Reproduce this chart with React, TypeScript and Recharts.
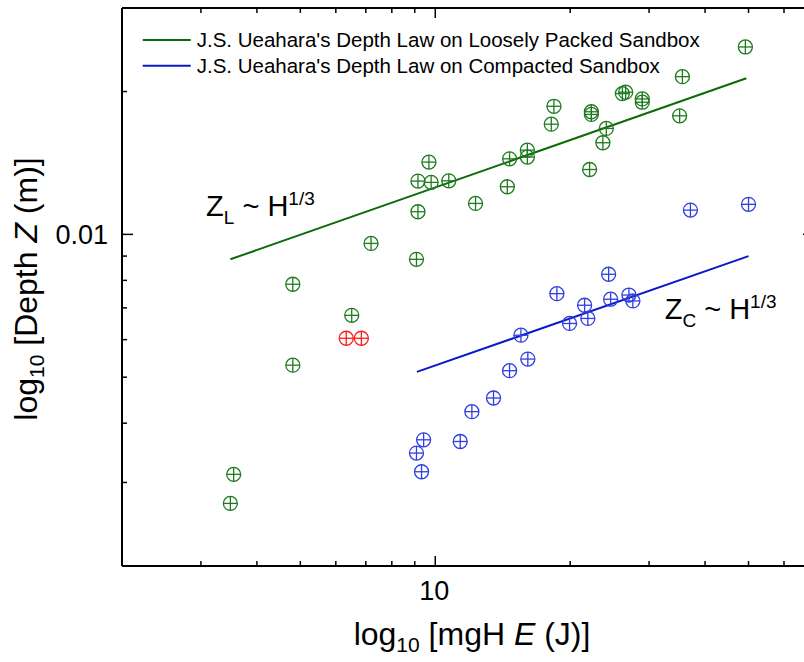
import React from 'react';
import { ScatterChart, Scatter, XAxis, YAxis, ReferenceDot, Legend } from 'recharts';

const FONT = '"Liberation Sans", Arial, Helvetica, sans-serif';

// Loosely packed sandbox (green)
const looseE = [49.2, 35.6, 26.15, 26.6, 28.97, 28.97, 18.4, 22.3, 22.3, 18.15, 24.08, 35.1, 23.66, 16.05, 16.05, 14.65, 9.68, 9.15, 9.79, 10.72, 14.48, 22.1, 12.3, 9.15, 7.19, 9.08, 4.81, 6.51, 4.81, 3.55, 3.49];
const looseZ = [0.02483, 0.0215, 0.0198, 0.01994, 0.0193, 0.01899, 0.01862, 0.01813, 0.0179, 0.01707, 0.01672, 0.01778, 0.0156, 0.01505, 0.01455, 0.01443, 0.0142, 0.01295, 0.01287, 0.01297, 0.0126, 0.0137, 0.01162, 0.01116, 0.00957, 0.00886, 0.00785, 0.00675, 0.0053, 0.00312, 0.00271];

// Highlighted points (red)
const outlierE = [6.33, 6.84];
const outlierZ = [0.00604, 0.00604];

// Compacted sandbox (blue)
const compactE = [37.1, 50.0, 24.37, 18.68, 21.54, 24.62, 27.05, 27.6, 19.94, 21.9, 15.53, 16.09, 14.65, 13.49, 12.07, 9.42, 11.37, 9.08, 9.32];
const compactZ = [0.01125, 0.01157, 0.00824, 0.0075, 0.00709, 0.0073, 0.00745, 0.00724, 0.00649, 0.00665, 0.00613, 0.00546, 0.00516, 0.00452, 0.00423, 0.00369, 0.00366, 0.00346, 0.00316];

// Fit lines Z ~ H^(1/3)
const looseFitE = [3.49, 49.45];
const looseFitZ = [0.00886, 0.02133];
const compactFitE = [9.1, 50.0];
const compactFitZ = [0.00513, 0.009];

const xTicks = [2, 3, 4, 5, 6, 7, 8, 9, 10, 20, 30, 40, 50, 60, 70];
const xLabeled = [10];
const yTicks = [0.002, 0.003, 0.004, 0.005, 0.006, 0.007, 0.008, 0.009, 0.01, 0.02, 0.03];
const yLabeled = [0.01];

const legendLabels = [
  "J.S. Ueahara's Depth Law on Loosely Packed Sandbox",
  "J.S. Ueahara's Depth Law on Compacted Sandbox",
];

const GREEN_LINE = '#0b6b0b';
const GREEN_MARK = '#1f7a1f';
const BLUE_LINE = '#0a18c8';
const BLUE_MARK = '#2f3fe0';
const RED_MARK = '#ff1a1a';

const zip = (xs: number[], ys: number[]) => xs.map((x, i) => ({ x, y: ys[i] }));

const marker = (color: string) => (props: any) => {
  const { cx, cy } = props;
  const r = 7;
  return (
    <g stroke={color} strokeWidth={1.3} fill="none">
      <circle cx={cx} cy={cy} r={r} />
      <line x1={cx - r} x2={cx + r} y1={cy} y2={cy} />
      <line x1={cx} x2={cx} y1={cy - r} y2={cy + r} />
    </g>
  );
};

const noShape = () => <g />;

const BottomTick = (props: any) => {
  const { x, y, payload } = props;
  const v = payload.value;
  const major = xLabeled.includes(v);
  return (
    <g>
      <line x1={x} x2={x} y1={y} y2={y - (major ? 10 : 5)} stroke="#000" strokeWidth={1.5} />
      {major && (
        <text x={x - 1} y={y + 34} textAnchor="middle" fontSize={27} fontFamily={FONT} fill="#000">
          {v}
        </text>
      )}
    </g>
  );
};

const TopTick = (props: any) => {
  const { x, y, payload } = props;
  const major = xLabeled.includes(payload.value);
  return <line x1={x} x2={x} y1={y} y2={y + (major ? 10 : 5)} stroke="#000" strokeWidth={1.5} />;
};

const LeftTick = (props: any) => {
  const { x, y, payload } = props;
  const v = payload.value;
  const major = yLabeled.includes(v);
  return (
    <g>
      <line x1={x} x2={x + (major ? 11 : 5)} y1={y} y2={y} stroke="#000" strokeWidth={1.5} />
      {major && (
        <text x={x - 14} y={y + 9.5} textAnchor="end" fontSize={27} fontFamily={FONT} fill="#000">
          {v}
        </text>
      )}
    </g>
  );
};

const RightTick = (props: any) => {
  const { x, y, payload } = props;
  const major = yLabeled.includes(payload.value);
  return <line x1={x} x2={x - (major ? 11 : 5)} y1={y} y2={y} stroke="#000" strokeWidth={1.5} />;
};

const LegendBox = () => (
  <svg width={640} height={60} style={{ display: 'block' }}>
    {legendLabels.map((label, i) => (
      <g key={label}>
        <line x1={12.7} x2={60.7} y1={15 + i * 25.7} y2={15 + i * 25.7} stroke={i === 0 ? GREEN_LINE : BLUE_LINE} strokeWidth={2} />
        <text x={66.7} y={22.3 + i * 25.7} fontSize={20.5} fontFamily={FONT} fill="#000">
          {label}
        </text>
      </g>
    ))}
  </svg>
);

const LawLabel = (sub: string) => (props: any) => {
  const { cx, cy } = props;
  return (
    <text x={cx} y={cy} fontSize={29} fontFamily={FONT} fill="#000">
      <tspan>Z</tspan>
      <tspan fontSize={19} dy={8}>{sub}</tspan>
      <tspan dy={-8}> ~ H</tspan>
      <tspan fontSize={19} dy={-11}>1/3</tspan>
    </text>
  );
};

const XTitle = (props: any) => {
  const vb = props.viewBox || { x: 122, width: 692, y: 566 };
  const cx = vb.x + vb.width / 2 + 4;
  return (
    <text x={cx} y={566 + 79} textAnchor="middle" fontSize={32} fontFamily={FONT} fill="#000">
      <tspan>log</tspan>
      <tspan fontSize={21} dy={7}>10</tspan>
      <tspan dy={-7}> [mgH </tspan>
      <tspan fontStyle="italic">E</tspan>
      <tspan> (J)]</tspan>
    </text>
  );
};

const YTitle = () => {
  const cy = 289;
  const x = 37;
  return (
    <text x={x} y={cy} transform={`rotate(-90, ${x}, ${cy})`} textAnchor="middle" fontSize={32} fontFamily={FONT} fill="#000">
      <tspan>log</tspan>
      <tspan fontSize={21} dy={7}>10</tspan>
      <tspan dy={-7}> [Depth </tspan>
      <tspan fontStyle="italic">Z</tspan>
      <tspan> (m)]</tspan>
    </text>
  );
};

export default function App() {
  const loose = zip(looseE, looseZ);
  const outliers = zip(outlierE, outlierZ);
  const compact = zip(compactE, compactZ);
  const looseFit = zip(looseFitE, looseFitZ);
  const compactFit = zip(compactFitE, compactFitZ);
  const axisLine = { stroke: '#000', strokeWidth: 2 };
  return (
    <div style={{ position: 'absolute', left: 0, top: 0, width: 804, height: 662, overflow: 'hidden', background: '#fff' }}>
      <ScatterChart width={830} height={662} margin={{ top: 7, left: 121, right: 15, bottom: 95 }}>
        <XAxis xAxisId="b" type="number" dataKey="x" scale="log" domain={[2, 70]} allowDataOverflow ticks={xTicks} interval={0}
          orientation="bottom" height={1} tickSize={0} tickMargin={0} tickLine={false} axisLine={axisLine} tick={<BottomTick />}
          label={{ content: <XTitle /> }} />
        <XAxis xAxisId="t" type="number" dataKey="x" scale="log" domain={[2, 70]} allowDataOverflow ticks={xTicks} interval={0}
          orientation="top" height={1} tickSize={0} tickMargin={0} tickLine={false} axisLine={axisLine} tick={<TopTick />} />
        <YAxis yAxisId="l" type="number" dataKey="y" scale="log" domain={[0.002, 0.03]} allowDataOverflow ticks={yTicks} interval={0}
          orientation="left" width={1} tickSize={0} tickMargin={0} tickLine={false} axisLine={axisLine} tick={<LeftTick />}
          label={{ content: <YTitle /> }} />
        <YAxis yAxisId="r" type="number" dataKey="y" scale="log" domain={[0.002, 0.03]} allowDataOverflow ticks={yTicks} interval={0}
          orientation="right" width={1} tickSize={0} tickMargin={0} tickLine={false} axisLine={axisLine} tick={<RightTick />} />

        <Scatter xAxisId="b" yAxisId="l" data={looseFit} line={{ stroke: GREEN_LINE, strokeWidth: 2 }} shape={noShape} isAnimationActive={false} />
        <Scatter xAxisId="b" yAxisId="l" data={compactFit} line={{ stroke: BLUE_LINE, strokeWidth: 2 }} shape={noShape} isAnimationActive={false} />
        <Scatter xAxisId="b" yAxisId="l" data={loose} shape={marker(GREEN_MARK)} isAnimationActive={false} />
        <Scatter xAxisId="b" yAxisId="l" data={compact} shape={marker(BLUE_MARK)} isAnimationActive={false} />
        <Scatter xAxisId="b" yAxisId="l" data={outliers} shape={marker(RED_MARK)} isAnimationActive={false} />

        <ReferenceDot xAxisId="b" yAxisId="l" x={3.08} y={0.01091} r={0} shape={LawLabel('L')} ifOverflow="visible" />
        <ReferenceDot xAxisId="b" yAxisId="l" x={32.5} y={0.00662} r={0} shape={LawLabel('C')} ifOverflow="visible" />

        <Legend layout="vertical" align="center" verticalAlign="middle"
          wrapperStyle={{ position: 'absolute', left: 130, top: 25, width: 640, height: 60 }}
          content={() => <LegendBox />} />
      </ScatterChart>
    </div>
  );
}
